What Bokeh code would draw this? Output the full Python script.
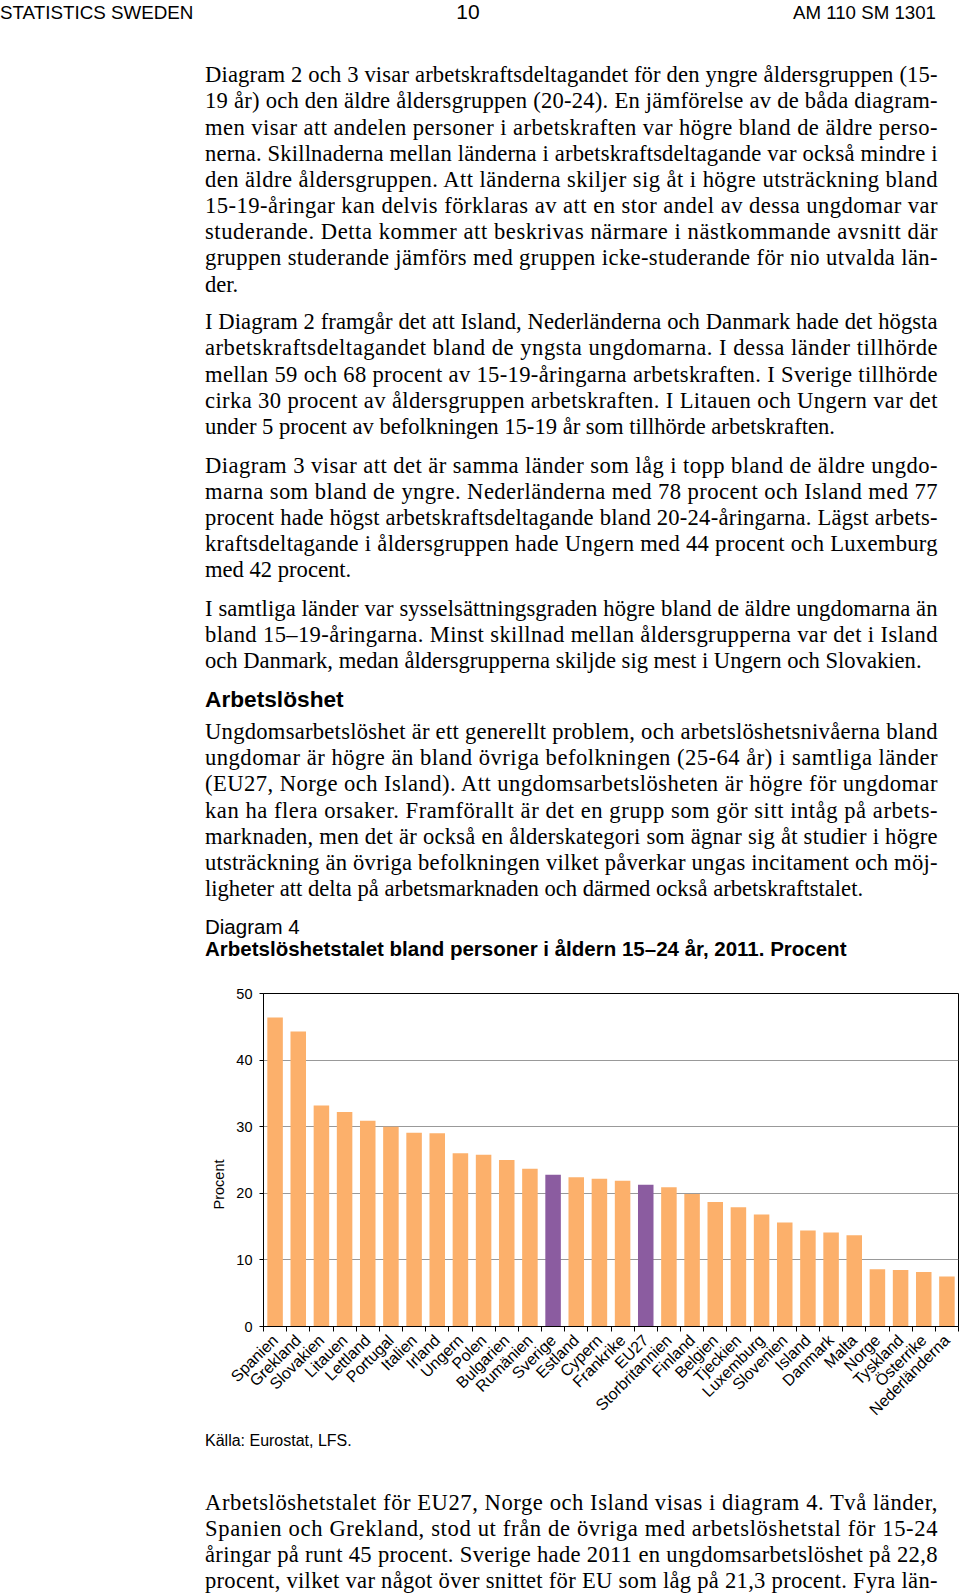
import html
from math import pi
from bokeh.plotting import figure
from bokeh.models import (Div, Range1d, FixedTicker, Title, ColumnDataSource,
                          CustomJSTickFormatter)
from bokeh.layouts import column
from bokeh.embed import file_html
from bokeh.resources import INLINE

# ---------------- data ----------------
countries = ["Spanien", "Grekland", "Slovakien", "Litauen", "Lettland", "Portugal",
             "Italien", "Irland", "Ungern", "Polen", "Bulgarien", "Rumänien",
             "Sverige", "Estland", "Cypern", "Frankrike", "EU27", "Storbritannien",
             "Finland", "Belgien", "Tjeckien", "Luxemburg", "Slovenien", "Island",
             "Danmark", "Malta", "Norge", "Tyskland", "Österrike", "Nederländerna"]
values = [46.4, 44.3, 33.2, 32.2, 30.9, 30.0, 29.1, 29.0, 26.0, 25.8, 25.0, 23.7,
          22.8, 22.4, 22.2, 21.9, 21.3, 20.9, 19.9, 18.7, 17.9, 16.8, 15.6, 14.4,
          14.1, 13.7, 8.6, 8.5, 8.2, 7.5]
highlight = ["Sverige", "EU27"]
y_ticks = [0, 10, 20, 30, 40, 50]
y_label = "Procent"
source_note = "Källa: Eurostat, LFS."
diagram_no = "Diagram 4"
diagram_title = "Arbetslöshetstalet bland personer i åldern 15–24 år, 2011. Procent"

header_left = "STATISTICS SWEDEN"
header_mid = "10"
header_right = "AM 110 SM 1301"

para1 = ["Diagram 2 och 3 visar arbetskraftsdeltagandet för den yngre åldersgruppen (15-",
         "19 år) och den äldre åldersgruppen (20-24). En jämförelse av de båda diagram-",
         "men visar att andelen personer i arbetskraften var högre bland de äldre perso-",
         "nerna. Skillnaderna mellan länderna i arbetskraftsdeltagande var också mindre i",
         "den äldre åldersgruppen. Att länderna skiljer sig åt i högre utsträckning bland",
         "15-19-åringar kan delvis förklaras av att en stor andel av dessa ungdomar var",
         "studerande. Detta kommer att beskrivas närmare i nästkommande avsnitt där",
         "gruppen studerande jämförs med gruppen icke-studerande för nio utvalda län-",
         "der."]
para2 = ["I Diagram 2 framgår det att Island, Nederländerna och Danmark hade det högsta",
         "arbetskraftsdeltagandet bland de yngsta ungdomarna. I dessa länder tillhörde",
         "mellan 59 och 68 procent av 15-19-åringarna arbetskraften. I Sverige tillhörde",
         "cirka 30 procent av åldersgruppen arbetskraften. I Litauen och Ungern var det",
         "under 5 procent av befolkningen 15-19 år som tillhörde arbetskraften."]
para3 = ["Diagram 3 visar att det är samma länder som låg i topp bland de äldre ungdo-",
         "marna som bland de yngre. Nederländerna med 78 procent och Island med 77",
         "procent hade högst arbetskraftsdeltagande bland 20-24-åringarna. Lägst arbets-",
         "kraftsdeltagande i åldersgruppen hade Ungern med 44 procent och Luxemburg",
         "med 42 procent."]
para4 = ["I samtliga länder var sysselsättningsgraden högre bland de äldre ungdomarna än",
         "bland 15–19-åringarna. Minst skillnad mellan åldersgrupperna var det i Island",
         "och Danmark, medan åldersgrupperna skiljde sig mest i Ungern och Slovakien."]
heading = "Arbetslöshet"
para5 = ["Ungdomsarbetslöshet är ett generellt problem, och arbetslöshetsnivåerna bland",
         "ungdomar är högre än bland övriga befolkningen (25-64 år) i samtliga länder",
         "(EU27, Norge och Island). Att ungdomsarbetslösheten är högre för ungdomar",
         "kan ha flera orsaker. Framförallt är det en grupp som gör sitt intåg på arbets-",
         "marknaden, men det är också en ålderskategori som ägnar sig åt studier i högre",
         "utsträckning än övriga befolkningen vilket påverkar ungas incitament och möj-",
         "ligheter att delta på arbetsmarknaden och därmed också arbetskraftstalet."]
para6 = ["Arbetslöshetstalet för EU27, Norge och Island visas i diagram 4. Två länder,",
         "Spanien och Grekland, stod ut från de övriga med arbetslöshetstal för 15-24",
         "åringar på runt 45 procent. Sverige hade 2011 en ungdomsarbetslöshet på 22,8",
         "procent, vilket var något över snittet för EU som låg på 21,3 procent. Fyra län-"]

# ---------------- style ----------------
SERIF = "'Liberation Serif', 'Times New Roman', serif"
SANS = "'Liberation Sans', Arial, sans-serif"
BODY_SIZE = 22.6
LEADING = 26.15
TEXT_X = 205
TEXT_W = 732.5
ORANGE = "#FCB06B"
PURPLE = "#8B5CA0"

TOP_H = 983
FIG_H = 444
BOT_H = 1595 - TOP_H - FIG_H


def svg_text(x, y, s, size, family=SERIF, weight="normal", length=None, anchor="start"):
    extra = f' textLength="{length}" lengthAdjust="spacing"' if length else ""
    style = (f"font-family:{family};font-size:{size}px;font-weight:{weight};"
             f"font-style:normal;fill:#000;")
    return (f'<text x="{x}" y="{y:.1f}" text-anchor="{anchor}" style="{style}"{extra}>'
            f'{html.escape(s)}</text>')


def paragraph(lines, y0, justify_last=False, leading=LEADING):
    out = []
    for k, s in enumerate(lines):
        last = (k == len(lines) - 1)
        length = TEXT_W if (not last or justify_last) else None
        out.append(svg_text(TEXT_X, y0 + k * leading, s, BODY_SIZE, length=length))
    return out


def svg_block(parts, h):
    return (f'<svg xmlns="http://www.w3.org/2000/svg" width="960" height="{h}" '
            f'style="display:block;overflow:visible">' + "".join(parts) + "</svg>")


top_parts = [
    svg_text(0, 18.5, header_left, 18.8, family=SANS),
    svg_text(468, 18.5, header_mid, 21, family=SANS, anchor="middle"),
    svg_text(936, 18.5, header_right, 18.7, family=SANS, anchor="end"),
]
top_parts += paragraph(para1, 82.3)
top_parts += paragraph(para2, 329.3)
top_parts += paragraph(para3, 472.7)
top_parts += paragraph(para4, 616.1)
top_parts.append(svg_text(TEXT_X, 706.6, heading, 22.7, family=SANS, weight="bold"))
top_parts += paragraph(para5, 739.0)
top_parts.append(svg_text(TEXT_X, 933.5, diagram_no, 20.5, family=SANS))
top_parts.append(svg_text(TEXT_X, 956.0, diagram_title, 20.5, family=SANS, weight="bold"))

bot_parts = [svg_text(TEXT_X, 19, source_note, 16, family=SANS)]
bot_parts += paragraph(para6, 83, justify_last=True, leading=26.0)

div_top = Div(text=svg_block(top_parts, TOP_H), width=960, height=TOP_H, margin=0)
div_bot = Div(text=svg_block(bot_parts, BOT_H), width=960, height=BOT_H, margin=0)

# ---------------- chart ----------------
n = len(countries)
src = ColumnDataSource(dict(
    x=[i + 0.5 for i in range(n)],
    top=values,
    color=[PURPLE if c in highlight else ORANGE for c in countries],
    name=countries,
))

p = figure(width=960, height=FIG_H, x_range=Range1d(0, n), y_range=Range1d(0, 50),
           output_backend="svg", toolbar_location=None, margin=0,
           min_border_left=263, min_border_right=2, min_border_top=10,
           min_border_bottom=100)
p.vbar(x="x", top="top", width=0.67, fill_color="color", line_color=None, source=src)

xa = p.xaxis[0]
xa.ticker = FixedTicker(ticks=[i + 0.5 for i in range(n)], minor_ticks=list(range(n + 1)))
xa.formatter = CustomJSTickFormatter(args=dict(names=countries),
                                     code="return names[Math.floor(tick)];")
xa.major_label_orientation = pi / 4
xa.major_tick_out = 0
xa.major_tick_in = 0
xa.minor_tick_out = 5
xa.minor_tick_in = 0
xa.minor_tick_line_color = "black"
xa.axis_line_color = "black"
xa.major_label_text_font = "Liberation Sans"
xa.major_label_text_font_size = "16px"
xa.major_label_text_color = "black"
xa.major_label_standoff = 6

ya = p.yaxis[0]
ya.ticker = FixedTicker(ticks=y_ticks)
ya.major_tick_out = 4
ya.major_tick_in = 0
ya.major_tick_line_color = "black"
ya.minor_tick_line_color = None
ya.axis_line_color = "black"
ya.major_label_text_font = "Liberation Sans"
ya.major_label_text_font_size = "14.5px"
ya.major_label_text_color = "black"
ya.major_label_standoff = 7

p.xgrid.visible = False
p.ygrid.grid_line_color = "#999999"
p.ygrid.grid_line_width = 1
p.outline_line_color = "black"
p.outline_line_alpha = 1
p.outline_line_width = 1
p.background_fill_color = "white"
p.border_fill_color = "white"

p.add_layout(Title(text=y_label, align="left", offset=117, standoff=14,
                   text_font="Liberation Sans", text_font_size="14.5px",
                   text_font_style="normal", text_color="black"), "left")

page = column(div_top, p, div_bot, spacing=0, margin=0)

open("out.html", "w").write(file_html(page, INLINE))
